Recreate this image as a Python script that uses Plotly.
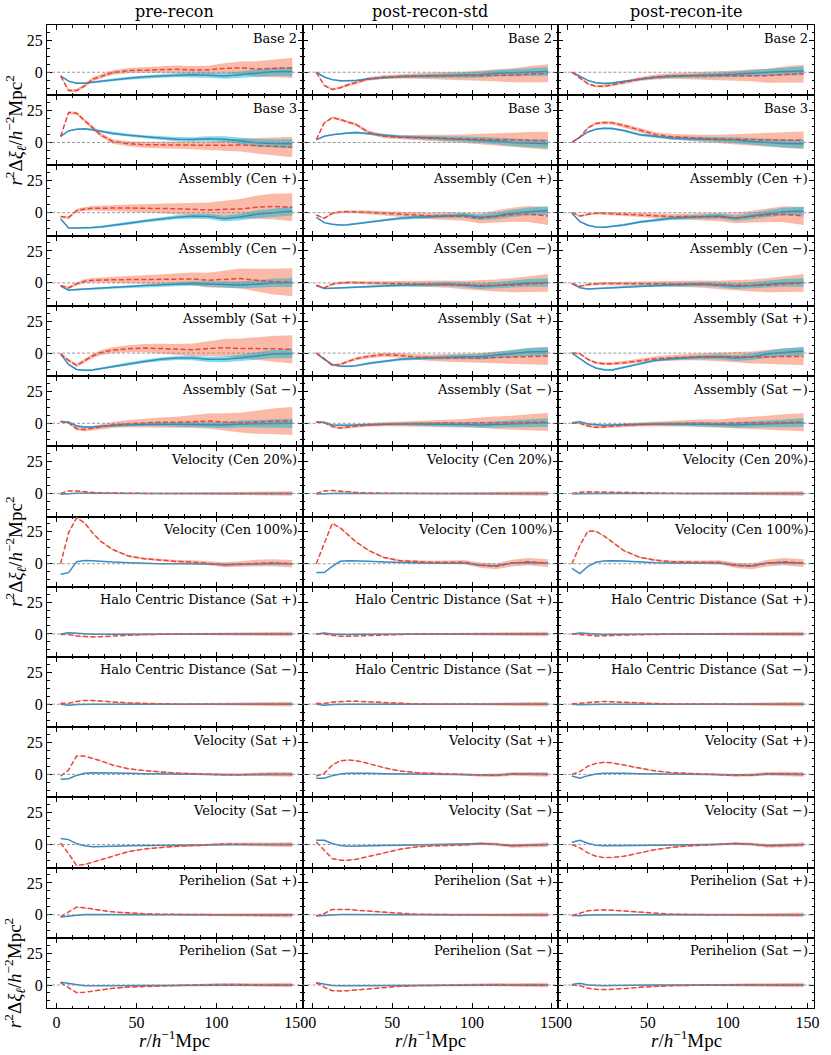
import plotly.graph_objects as go
from plotly.subplots import make_subplots

# ---------------- data ----------------
R = [2.5, 7.5, 12.5, 17.5, 22.5, 27.5, 35, 45, 55, 65, 75, 85, 95, 105, 115, 125, 135, 147.5]

COLUMN_TITLES = ["pre-recon", "post-recon-std", "post-recon-ite"]
PANEL_LABELS = ["Base 2", "Base 3", "Assembly (Cen +)", "Assembly (Cen \u2212)",
                "Assembly (Sat +)", "Assembly (Sat \u2212)", "Velocity (Cen 20%)",
                "Velocity (Cen 100%)", "Halo Centric Distance (Sat +)",
                "Halo Centric Distance (Sat \u2212)", "Velocity (Sat +)", "Velocity (Sat \u2212)",
                "Perihelion (Sat +)", "Perihelion (Sat \u2212)"]
X_TICKS = [0, 50, 100, 150]
Y_TICKS = [0, 25]

# Base 2
B2_PRE_RED = [-2.9, -14.3, -14.3, -10.7, -5.5, -3.4, -0.3, 1.3, 1.8, 2.0, 2.3, 1.8, 1.8, 3.0, 3.4, 2.6, 3.0, 3.4]
B2_PRE_BLUE = [-2.9, -7.0, -8.6, -8.6, -7.8, -7.0, -6.0, -4.7, -3.6, -2.9, -2.3, -2.0, -2.3, -2.9, -2.0, -0.8, 0.3, 0.5]
B2_STD_RED = [0.0, -10.3, -13.5, -12.2, -9.8, -8.0, -5.3, -3.7, -3.2, -2.9, -2.7, -2.7, -2.9, -2.7, -2.4, -2.4, -1.6, -0.8]
B2_STD_BLUE = [0.0, -3.7, -5.8, -6.6, -6.6, -6.4, -5.3, -4.2, -3.4, -3.2, -2.9, -2.7, -2.4, -1.9, -0.8, -0.3, 0.3, 0.5]
B2_ITE_RED = [0.0, -4.2, -9.0, -11.0, -10.9, -10.0, -8.0, -5.3, -3.7, -2.9, -2.7, -2.7, -2.9, -2.7, -2.4, -2.7, -1.9, -1.1]
B2_ITE_BLUE = [0.0, -3.2, -6.4, -8.2, -8.8, -8.5, -7.2, -5.3, -4.0, -3.2, -2.9, -2.7, -2.4, -1.6, -0.8, 0.0, 0.5, 1.0]
# Base 3
B3_PRE_RED = [4.7, 23.4, 22.9, 17.2, 11.2, 6.0, 0.8, -1.0, -1.8, -2.0, -2.0, -2.3, -2.6, -2.3, -2.0, -2.6, -3.1, -3.6]
B3_PRE_BLUE = [4.7, 9.1, 10.4, 10.7, 9.9, 8.9, 7.0, 5.7, 4.4, 3.4, 2.6, 2.3, 2.9, 2.6, 1.3, -0.3, -0.8, -1.0]
B3_STD_RED = [2.1, 15.4, 19.4, 18.0, 15.9, 14.0, 8.0, 4.8, 4.0, 3.7, 3.4, 3.2, 2.9, 2.9, 2.4, 2.1, 1.9, 1.3]
B3_STD_BLUE = [2.1, 4.8, 6.1, 6.9, 7.4, 7.7, 6.9, 5.3, 4.5, 4.0, 3.4, 2.9, 2.7, 2.1, 1.1, 0.0, -0.5, -1.1]
B3_ITE_RED = [0.0, 4.2, 11.4, 14.9, 15.6, 15.4, 13.3, 9.5, 6.1, 4.5, 3.7, 3.2, 2.7, 2.4, 2.1, 2.1, 1.9, 1.6]
B3_ITE_BLUE = [0.0, 4.2, 8.2, 10.3, 11.1, 10.9, 9.3, 6.1, 4.5, 3.4, 2.9, 2.7, 2.4, 1.9, 0.8, 0.0, -0.8, -1.1]
# Assembly (Cen +)
ACP_PRE_RED = [-3.1, -3.9, 1.6, 2.9, 3.4, 3.6, 3.6, 3.6, 3.6, 3.4, 3.1, 2.6, 2.1, 2.6, 2.9, 4.2, 4.9, 4.2]
ACP_PRE_BLUE = [-4.7, -12.0, -12.0, -12.0, -11.7, -11.2, -10.2, -8.3, -6.5, -4.9, -3.6, -2.9, -3.0, -4.7, -3.4, -1.3, 0.0, 1.3]
ACP_STD_RED = [-1.8, -4.4, -0.5, 0.5, 0.8, 0.8, 0.3, -0.5, -1.3, -2.1, -2.6, -2.6, -3.1, -4.4, -3.1, -1.6, -1.0, -2.6]
ACP_STD_BLUE = [-3.6, -7.8, -9.1, -9.6, -9.4, -8.6, -7.3, -5.7, -4.4, -3.6, -3.1, -2.3, -2.1, -3.6, -2.6, -0.5, 0.8, 1.6]
ACP_ITE_RED = [0.0, -2.6, -1.3, -0.5, -0.5, -0.8, -1.3, -1.8, -2.3, -3.1, -3.1, -3.1, -3.4, -4.2, -3.1, -1.8, -1.3, -2.6]
ACP_ITE_BLUE = [-0.5, -7.0, -9.9, -11.2, -11.5, -10.9, -9.6, -7.3, -5.7, -4.4, -3.6, -2.9, -2.6, -4.4, -2.6, -0.5, 0.8, 1.3]
# Assembly (Cen -)
ACM_PRE_RED = [-2.1, -3.9, -0.8, 1.3, 2.1, 2.3, 2.3, 2.6, 2.6, 2.9, 3.1, 3.1, 2.1, 2.9, 3.4, 2.1, 1.0, 0.5]
ACM_PRE_BLUE = [-2.6, -5.7, -5.2, -4.9, -4.7, -4.2, -3.6, -2.9, -2.1, -1.6, -1.0, -0.5, -0.8, -1.3, -1.6, -1.0, 0.0, 0.3]
ACM_STD_RED = [-1.8, -3.9, -1.0, 0.0, 0.3, 0.3, 0.0, -0.3, -0.5, -0.5, -0.8, -1.0, -1.6, -2.1, -2.1, -1.8, -1.0, 0.0]
ACM_STD_BLUE = [-2.1, -4.4, -4.2, -3.9, -3.6, -3.4, -2.9, -2.3, -1.8, -1.6, -1.3, -1.0, -1.6, -2.6, -2.1, -1.0, 0.0, 0.3]
ACM_ITE_RED = [-0.5, -2.6, -1.3, -0.8, -0.5, -0.5, -0.5, -0.5, -0.5, -0.5, -0.8, -1.0, -1.6, -2.1, -2.1, -1.8, -1.0, 0.0]
ACM_ITE_BLUE = [-0.5, -3.9, -4.7, -4.4, -4.2, -3.6, -3.1, -2.3, -1.8, -1.6, -1.3, -1.0, -1.6, -2.6, -2.1, -1.0, 0.0, 0.3]
# Assembly (Sat +)
ASP_PRE_RED = [-0.3, -5.7, -9.6, -6.0, -2.3, 0.3, 2.3, 3.4, 3.9, 3.6, 2.9, 2.6, 3.6, 4.2, 3.6, 3.6, 3.4, 2.9]
ASP_PRE_BLUE = [-0.8, -8.9, -12.8, -13.5, -13.3, -12.2, -10.4, -8.3, -6.5, -4.9, -3.9, -3.9, -4.9, -4.9, -3.9, -2.3, -0.8, -0.3]
ASP_STD_RED = [0.0, -4.4, -9.6, -8.9, -6.5, -4.4, -2.6, -1.3, -1.8, -3.1, -3.6, -3.9, -3.9, -3.9, -3.6, -3.1, -2.6, -2.3]
ASP_STD_BLUE = [0.0, -4.9, -8.9, -10.4, -10.4, -9.9, -8.1, -6.3, -4.9, -4.2, -3.6, -3.1, -2.9, -2.9, -1.8, -0.3, 0.8, 1.3]
ASP_ITE_RED = [0.0, -0.5, -4.9, -7.6, -8.3, -8.3, -7.6, -6.0, -4.4, -3.6, -3.1, -2.9, -2.9, -3.1, -3.4, -3.1, -2.6, -2.6]
ASP_ITE_BLUE = [0.0, -4.2, -8.6, -11.7, -13.0, -13.3, -11.2, -8.1, -5.7, -4.4, -3.6, -3.1, -2.9, -3.9, -2.9, -0.8, 0.5, 1.6]
# Assembly (Sat -)
ASM_PRE_RED = [1.6, 0.5, -4.2, -4.9, -3.9, -2.9, -1.3, -0.3, 0.5, 0.8, 0.8, 1.3, 1.8, 1.0, 0.5, 0.8, 1.6, 1.8]
ASM_PRE_BLUE = [1.3, 1.0, -2.1, -2.9, -2.9, -2.3, -1.8, -1.3, -0.8, -0.8, -0.8, -1.0, -1.3, -1.3, -0.5, -0.3, 0.0, 0.0]
ASM_STD_RED = [1.0, 0.5, -2.6, -3.6, -2.9, -2.1, -1.3, -0.8, -0.5, -0.3, 0.0, 0.3, 0.0, 0.5, 0.3, 0.5, 0.8, 1.0]
ASM_STD_BLUE = [1.0, 0.8, -1.3, -1.6, -1.6, -1.3, -1.0, -0.8, -0.5, -0.5, -0.5, -0.8, -1.0, -1.3, -0.8, -0.3, 0.3, 0.5]
ASM_ITE_RED = [0.0, 0.0, -2.1, -3.1, -2.9, -2.3, -1.6, -1.0, -0.5, -0.3, 0.0, 0.0, -0.3, 0.3, 0.3, 0.5, 0.8, 0.8]
ASM_ITE_BLUE = [0.5, 1.3, -0.5, -1.3, -1.6, -1.3, -1.0, -0.8, -0.5, -0.5, -0.5, -0.8, -1.0, -1.3, -0.8, -0.3, 0.3, 0.5]
# Velocity (Cen 20%)
VC20_PRE_RED = [0.0, 2.0, 2.0, 1.3, 0.8, 0.5, 0.3, 0.1, 0.0, 0.0, 0.0, 0.0, 0.0, 0.0, 0.0, 0.0, 0.0, 0.0]
VC20_PRE_BLUE = [-0.5, 0.0, 0.3, 0.2, 0.1, 0.0, 0.0, 0.0, 0.0, 0.0, 0.0, 0.0, 0.0, 0.0, 0.0, 0.0, 0.0, 0.0]
VC20_STD_RED = [0.0, 2.0, 2.4, 1.8, 1.2, 0.8, 0.4, 0.2, 0.1, 0.0, 0.0, 0.0, 0.0, 0.0, 0.0, 0.0, 0.0, 0.0]
VC20_STD_BLUE = [-0.3, 0.0, 0.2, 0.2, 0.1, 0.0, 0.0, 0.0, 0.0, 0.0, 0.0, 0.0, 0.0, 0.0, 0.0, 0.0, 0.0, 0.0]
VC20_ITE_RED = [0.0, 1.0, 1.3, 1.2, 0.9, 0.6, 0.3, 0.1, 0.0, 0.0, 0.0, 0.0, 0.0, 0.0, 0.0, 0.0, 0.0, 0.0]
VC20_ITE_BLUE = [-0.2, 0.0, 0.2, 0.2, 0.1, 0.0, 0.0, 0.0, 0.0, 0.0, 0.0, 0.0, 0.0, 0.0, 0.0, 0.0, 0.0, 0.0]
# Velocity (Cen 100%)
VC100_PRE_RED = [0.0, 24.2, 36.0, 32.0, 24.2, 17.7, 11.2, 6.0, 3.9, 2.6, 1.8, 1.3, 0.5, -0.8, -0.3, 0.5, 0.8, 0.0]
VC100_PRE_BLUE = [-8.3, -7.0, 1.6, 2.6, 2.3, 1.8, 1.3, 0.8, 0.3, 0.0, 0.0, 0.0, -0.3, -0.8, -0.3, 0.2, 0.2, 0.0]
VC100_STD_RED = [0.0, 16.0, 31.6, 28.1, 22.3, 17.0, 10.6, 4.8, 2.4, 1.6, 1.1, 1.1, 1.3, -1.1, -2.1, 0.5, 1.6, 0.5]
VC100_STD_BLUE = [-6.9, -6.9, -2.1, 1.9, 2.4, 2.4, 1.9, 1.3, 0.8, 0.5, 0.3, 0.3, 0.5, -1.1, -1.6, 0.5, 1.0, 0.3]
VC100_ITE_RED = [0.0, 14.3, 25.5, 25.5, 21.8, 17.0, 10.3, 5.0, 2.7, 1.6, 1.1, 1.1, 1.1, -1.3, -2.1, 0.5, 1.6, 0.5]
VC100_ITE_BLUE = [-3.7, -7.7, -2.1, 1.1, 2.1, 2.4, 2.1, 1.3, 0.8, 0.5, 0.3, 0.3, 0.5, -1.1, -1.6, 0.5, 1.0, 0.3]
# Halo Centric Distance (Sat +)
HDP_PRE_RED = [-0.5, -0.5, -1.6, -2.1, -2.3, -2.1, -1.6, -1.0, -0.5, -0.3, 0.0, 0.0, 0.0, 0.2, 0.0, 0.0, 0.0, 0.0]
HDP_PRE_BLUE = [0.0, 1.0, 0.5, 0.0, -0.3, -0.3, -0.3, -0.1, 0.0, 0.0, 0.0, 0.0, 0.0, 0.0, 0.0, 0.0, 0.0, 0.0]
HDP_STD_RED = [0.0, 0.0, -1.0, -1.8, -1.8, -1.6, -1.0, -0.5, -0.3, 0.0, 0.0, 0.0, 0.0, 0.2, 0.0, 0.0, 0.0, 0.0]
HDP_STD_BLUE = [0.0, 0.8, 0.0, -0.3, -0.5, -0.3, -0.2, 0.0, 0.0, 0.0, 0.0, 0.0, 0.0, 0.0, 0.0, 0.0, 0.0, 0.0]
HDP_ITE_RED = [0.0, -0.3, -1.0, -1.6, -1.6, -1.3, -0.8, -0.5, -0.3, 0.0, 0.0, 0.0, 0.0, 0.2, 0.0, 0.0, 0.0, 0.0]
HDP_ITE_BLUE = [0.0, 0.8, 0.3, -0.3, -0.5, -0.3, -0.2, 0.0, 0.0, 0.0, 0.0, 0.0, 0.0, 0.0, 0.0, 0.0, 0.0, 0.0]
# Halo Centric Distance (Sat -)
HDM_PRE_RED = [0.8, 0.8, 2.1, 2.9, 2.9, 2.3, 1.8, 1.0, 0.5, 0.2, 0.0, 0.0, 0.0, 0.0, 0.0, 0.0, 0.0, 0.0]
HDM_PRE_BLUE = [0.0, -0.8, -0.3, 0.0, 0.0, 0.0, 0.0, 0.0, 0.0, 0.0, 0.0, 0.0, 0.0, 0.0, 0.0, 0.0, 0.0, 0.0]
HDM_STD_RED = [0.8, 0.5, 1.6, 2.1, 2.3, 2.3, 1.8, 1.0, 0.5, 0.2, 0.0, 0.0, 0.0, 0.0, 0.0, 0.0, 0.0, 0.0]
HDM_STD_BLUE = [0.0, -0.8, -0.3, 0.0, 0.0, 0.0, 0.0, 0.0, 0.0, 0.0, 0.0, 0.0, 0.0, 0.0, 0.0, 0.0, 0.0, 0.0]
HDM_ITE_RED = [0.3, 0.8, 1.6, 2.1, 2.1, 1.8, 1.6, 1.0, 0.5, 0.2, 0.0, 0.0, 0.0, 0.0, 0.0, 0.0, 0.0, 0.0]
HDM_ITE_BLUE = [0.0, -0.5, -0.3, 0.0, 0.0, 0.0, 0.0, 0.0, 0.0, 0.0, 0.0, 0.0, 0.0, 0.0, 0.0, 0.0, 0.0, 0.0]
# Velocity (Sat +)
VSP_PRE_RED = [-1.3, 3.4, 14.3, 14.3, 12.5, 10.7, 7.3, 4.4, 2.9, 1.8, 1.0, 0.5, 0.0, -0.3, -0.3, 0.0, 0.2, 0.0]
VSP_PRE_BLUE = [-3.9, -3.4, -0.8, 0.8, 1.3, 1.3, 1.0, 0.8, 0.5, 0.3, 0.3, 0.0, 0.0, -0.3, -0.2, 0.0, 0.0, 0.0]
VSP_STD_RED = [-1.3, 0.8, 7.3, 10.7, 11.2, 10.7, 8.6, 5.2, 2.6, 1.3, 0.8, 0.3, 0.0, -0.8, -0.8, 0.3, 0.3, 0.0]
VSP_STD_BLUE = [-3.1, -3.1, -1.0, 0.3, 0.8, 1.0, 0.8, 0.5, 0.3, 0.1, 0.0, 0.0, 0.0, -0.5, -0.5, 0.2, 0.2, 0.0]
VSP_ITE_RED = [0.0, 2.1, 6.5, 8.6, 9.4, 9.1, 7.3, 4.7, 2.6, 1.3, 0.8, 0.3, 0.0, -0.8, -0.5, 0.5, 0.5, 0.0]
VSP_ITE_BLUE = [-1.3, -3.1, -1.0, 0.3, 0.8, 1.0, 0.8, 0.5, 0.3, 0.1, 0.0, 0.0, 0.0, -0.5, -0.5, 0.2, 0.2, 0.0]
# Velocity (Sat -)
VSM_PRE_RED = [1.3, -7.0, -16.3, -15.6, -13.8, -12.0, -9.1, -5.5, -3.4, -2.1, -1.3, -0.8, -0.3, 0.5, 0.3, 0.0, 0.0, 0.0]
VSM_PRE_BLUE = [4.7, 3.9, 0.8, -1.0, -1.6, -1.6, -1.3, -1.0, -0.8, -0.5, -0.3, -0.3, 0.0, 0.3, 0.0, 0.0, 0.0, 0.0]
VSM_STD_RED = [2.1, -4.4, -10.9, -12.2, -12.2, -11.5, -9.6, -6.5, -3.6, -1.8, -1.0, -0.5, -0.3, 0.8, 0.3, -1.0, -0.8, 0.0]
VSM_STD_BLUE = [3.4, 3.4, 0.8, -0.8, -1.3, -1.3, -1.0, -0.8, -0.5, -0.3, -0.3, 0.0, 0.3, 0.8, 0.3, -0.8, -0.5, 0.0]
VSM_ITE_RED = [0.0, -2.6, -6.5, -9.1, -10.2, -10.2, -9.1, -6.5, -3.9, -2.1, -1.0, -0.5, 0.0, 0.8, 0.3, -1.0, -0.8, 0.0]
VSM_ITE_BLUE = [1.8, 3.4, 1.0, -0.5, -1.0, -1.0, -1.0, -0.8, -0.5, -0.3, -0.3, 0.0, 0.3, 0.8, 0.3, -0.8, -0.5, 0.0]
# Perihelion (Sat +)
PHP_PRE_RED = [-1.6, 2.3, 6.0, 5.5, 4.4, 3.6, 2.3, 1.3, 0.8, 0.5, 0.3, 0.0, 0.0, 0.0, 0.0, -0.2, -0.3, -0.3]
PHP_PRE_BLUE = [-1.8, -1.0, 0.0, 0.3, 0.3, 0.2, 0.1, 0.0, 0.0, 0.0, 0.0, 0.0, 0.0, 0.0, 0.0, 0.0, 0.0, 0.0]
PHP_STD_RED = [-1.0, 1.0, 4.2, 4.4, 4.2, 3.6, 2.9, 1.8, 1.0, 0.5, 0.3, 0.0, 0.0, 0.0, -0.2, -0.2, 0.0, 0.0]
PHP_STD_BLUE = [-1.0, -0.5, 0.0, 0.3, 0.3, 0.2, 0.1, 0.0, 0.0, 0.0, 0.0, 0.0, 0.0, 0.0, 0.0, 0.0, 0.0, 0.0]
PHP_ITE_RED = [-0.5, 1.0, 3.1, 3.6, 3.9, 3.6, 2.9, 1.8, 1.0, 0.5, 0.3, 0.0, 0.0, 0.0, -0.2, -0.2, 0.0, 0.0]
PHP_ITE_BLUE = [-0.5, -0.8, -0.2, 0.0, 0.1, 0.1, 0.0, 0.0, 0.0, 0.0, 0.0, 0.0, 0.0, 0.0, 0.0, 0.0, 0.0, 0.0]
# Perihelion (Sat -)
PHM_PRE_RED = [1.8, -1.8, -6.0, -5.7, -4.7, -3.9, -2.6, -1.6, -1.0, -0.5, -0.3, 0.0, 0.3, 0.5, 0.3, 0.0, 0.0, 0.0]
PHM_PRE_BLUE = [2.1, 1.3, 0.0, -0.5, -0.5, -0.5, -0.3, -0.1, 0.0, 0.0, 0.0, 0.0, 0.0, 0.0, 0.0, 0.0, 0.0, 0.0]
PHM_STD_RED = [1.8, -1.8, -4.4, -4.7, -4.4, -3.9, -2.9, -1.8, -1.0, -0.5, -0.3, 0.0, 0.3, 0.5, 0.3, 0.0, 0.0, 0.0]
PHM_STD_BLUE = [1.8, 1.0, -0.3, -0.5, -0.5, -0.4, -0.2, 0.0, 0.0, 0.0, 0.0, 0.0, 0.0, 0.0, 0.0, 0.0, 0.0, 0.0]
PHM_ITE_RED = [0.0, -0.5, -2.6, -3.4, -3.6, -3.4, -2.9, -1.8, -1.0, -0.5, -0.3, 0.0, 0.2, 0.3, 0.2, 0.0, 0.0, 0.0]
PHM_ITE_BLUE = [0.5, 1.3, 0.0, -0.5, -0.5, -0.4, -0.2, 0.0, 0.0, 0.0, 0.0, 0.0, 0.0, 0.0, 0.0, 0.0, 0.0, 0.0]

# error half-widths (1-sigma bands)
E_RED_PRE_A = [0.5, 1.0, 1.2, 1.3, 1.5, 1.6, 1.8, 2.0, 2.3, 2.6, 2.9, 3.0, 3.3, 4.0, 5.0, 6.0, 7.0, 8.0]
E_RED_PRE_B = [0.6, 1.0, 1.3, 1.5, 1.8, 2.0, 2.3, 2.8, 3.3, 3.8, 4.3, 5.0, 5.8, 6.8, 7.8, 9.0, 10.0, 11.0]
E_RED_POST = [0.4, 0.7, 0.9, 1.0, 1.1, 1.2, 1.4, 1.6, 1.9, 2.2, 2.5, 2.9, 3.3, 4.0, 4.7, 5.5, 6.3, 7.0]
E_BLUE_PRE = [0.3, 0.5, 0.6, 0.7, 0.8, 0.9, 1.0, 1.1, 1.2, 1.4, 1.6, 1.8, 2.0, 2.3, 2.6, 3.0, 3.3, 3.6]
E_BLUE_POST = [0.2, 0.4, 0.5, 0.6, 0.7, 0.8, 0.9, 1.0, 1.1, 1.3, 1.5, 1.7, 1.9, 2.2, 2.5, 2.8, 3.1, 3.4]
E_RED_SMALL = [0.1, 0.2, 0.3, 0.3, 0.3, 0.3, 0.3, 0.4, 0.4, 0.5, 0.6, 0.7, 0.8, 1.0, 1.2, 1.4, 1.6, 1.8]
E_RED_V100 = [0.2, 0.4, 0.5, 0.5, 0.5, 0.5, 0.6, 0.7, 0.8, 1.0, 1.2, 1.4, 1.7, 2.0, 2.3, 2.6, 2.8, 3.0]
E_BLUE_SMALL = [0.1, 0.1, 0.15, 0.15, 0.15, 0.15, 0.2, 0.2, 0.2, 0.25, 0.3, 0.3, 0.35, 0.4, 0.45, 0.5, 0.55, 0.6]

ROWS = [
    [(B2_PRE_RED, B2_PRE_BLUE), (B2_STD_RED, B2_STD_BLUE), (B2_ITE_RED, B2_ITE_BLUE)],
    [(B3_PRE_RED, B3_PRE_BLUE), (B3_STD_RED, B3_STD_BLUE), (B3_ITE_RED, B3_ITE_BLUE)],
    [(ACP_PRE_RED, ACP_PRE_BLUE), (ACP_STD_RED, ACP_STD_BLUE), (ACP_ITE_RED, ACP_ITE_BLUE)],
    [(ACM_PRE_RED, ACM_PRE_BLUE), (ACM_STD_RED, ACM_STD_BLUE), (ACM_ITE_RED, ACM_ITE_BLUE)],
    [(ASP_PRE_RED, ASP_PRE_BLUE), (ASP_STD_RED, ASP_STD_BLUE), (ASP_ITE_RED, ASP_ITE_BLUE)],
    [(ASM_PRE_RED, ASM_PRE_BLUE), (ASM_STD_RED, ASM_STD_BLUE), (ASM_ITE_RED, ASM_ITE_BLUE)],
    [(VC20_PRE_RED, VC20_PRE_BLUE), (VC20_STD_RED, VC20_STD_BLUE), (VC20_ITE_RED, VC20_ITE_BLUE)],
    [(VC100_PRE_RED, VC100_PRE_BLUE), (VC100_STD_RED, VC100_STD_BLUE), (VC100_ITE_RED, VC100_ITE_BLUE)],
    [(HDP_PRE_RED, HDP_PRE_BLUE), (HDP_STD_RED, HDP_STD_BLUE), (HDP_ITE_RED, HDP_ITE_BLUE)],
    [(HDM_PRE_RED, HDM_PRE_BLUE), (HDM_STD_RED, HDM_STD_BLUE), (HDM_ITE_RED, HDM_ITE_BLUE)],
    [(VSP_PRE_RED, VSP_PRE_BLUE), (VSP_STD_RED, VSP_STD_BLUE), (VSP_ITE_RED, VSP_ITE_BLUE)],
    [(VSM_PRE_RED, VSM_PRE_BLUE), (VSM_STD_RED, VSM_STD_BLUE), (VSM_ITE_RED, VSM_ITE_BLUE)],
    [(PHP_PRE_RED, PHP_PRE_BLUE), (PHP_STD_RED, PHP_STD_BLUE), (PHP_ITE_RED, PHP_ITE_BLUE)],
    [(PHM_PRE_RED, PHM_PRE_BLUE), (PHM_STD_RED, PHM_STD_BLUE), (PHM_ITE_RED, PHM_ITE_BLUE)],
]


def errors_for(i, j):
    if i < 6:
        if j == 0:
            return (E_RED_PRE_A if i < 2 else E_RED_PRE_B), E_BLUE_PRE
        return E_RED_POST, E_BLUE_POST
    if i == 7:
        return E_RED_V100, E_BLUE_SMALL
    return E_RED_SMALL, E_BLUE_SMALL


# ---------------- style ----------------
RED_LINE = "#E5473B"
BLUE_LINE = "#3A8AC4"
RED_FILL = "rgba(248,122,88,0.52)"
BLUE_FILL = "rgba(0,185,205,0.5)"
TEXT_FONT = "DejaVu Serif"
MATH_FONT = "Liberation Serif"

FIG_W, FIG_H = 831, 1055
M_L, M_R, M_T, M_B = 47, 11, 25, 47
PLOT_H = FIG_H - M_T - M_B

NR, NC = 14, 3
fig = make_subplots(rows=NR, cols=NC, shared_xaxes=True, shared_yaxes=True,
                    horizontal_spacing=0, vertical_spacing=0)


def band(x, y, e):
    up = [a + b for a, b in zip(y, e)]
    lo = [a - b for a, b in zip(y, e)]
    return list(x) + list(x)[::-1], up + lo[::-1]

for i in range(NR):
    for j in range(NC):
        red, blue = ROWS[i][j]
        er, eb = errors_for(i, j)
        bx, by = band(R, red, er)
        fig.add_trace(go.Scatter(x=bx, y=by, fill="toself", fillcolor=RED_FILL,
                                 line=dict(width=0), mode="lines", hoverinfo="skip"),
                      row=i + 1, col=j + 1)
        bx, by = band(R, blue, eb)
        fig.add_trace(go.Scatter(x=bx, y=by, fill="toself", fillcolor=BLUE_FILL,
                                 line=dict(width=0), mode="lines", hoverinfo="skip"),
                      row=i + 1, col=j + 1)
        fig.add_trace(go.Scatter(x=R, y=blue, mode="lines",
                                 line=dict(color=BLUE_LINE, width=1.5)),
                      row=i + 1, col=j + 1)
        fig.add_trace(go.Scatter(x=R, y=red, mode="lines",
                                 line=dict(color=RED_LINE, width=1.5, dash="5px,2.5px")),
                      row=i + 1, col=j + 1)
        k = i * NC + j + 1
        sfx = "" if k == 1 else str(k)
        fig.add_shape(type="line", xref=f"x{sfx} domain", yref=f"y{sfx}",
                      x0=0, x1=1, y0=0, y1=0, layer="above",
                      line=dict(color="#8c8c8c", width=0.9, dash="3px,2px"))
        fig.add_annotation(xref=f"x{sfx} domain", yref=f"y{sfx} domain",
                           x=0.985, y=0.95, xanchor="right", yanchor="top",
                           text=PANEL_LABELS[i], showarrow=False,
                           font=dict(family=TEXT_FONT, size=13, color="black"))

fig.update_xaxes(range=[-6, 154], tickvals=X_TICKS, ticks="inside", ticklen=5, tickwidth=1,
                 tickcolor="black", showline=True, linecolor="black", linewidth=1,
                 mirror="allticks", showgrid=False, zeroline=False,
                 minor=dict(ticks="inside", ticklen=2.5, dtick=10, tick0=0,
                            tickcolor="black", showgrid=False),
                 tickfont=dict(family=MATH_FONT, size=16, color="black"))
fig.update_yaxes(range=[-18, 37], tickvals=Y_TICKS, ticks="inside", ticklen=5, tickwidth=1,
                 tickcolor="black", showline=True, linecolor="black", linewidth=1,
                 mirror="allticks", showgrid=False, zeroline=False,
                 minor=dict(ticks="inside", ticklen=2.5, dtick=6.25, tick0=0,
                            tickcolor="black", showgrid=False),
                 tickfont=dict(family=MATH_FONT, size=16, color="black"))

# column titles and x titles
for j, t in enumerate(COLUMN_TITLES):
    sfx = "" if j == 0 else str(j + 1)
    fig.add_annotation(xref=f"x{sfx} domain", yref="paper", x=0.5, y=1 + 13 / PLOT_H,
                       xanchor="center", yanchor="middle", text=t, showarrow=False,
                       font=dict(family=TEXT_FONT, size=16, color="black"))
    k = (NR - 1) * NC + j + 1
    fig.add_annotation(xref=f"x{k} domain", yref="paper", x=0.5, y=-31 / PLOT_H,
                       xanchor="center", yanchor="middle",
                       text="<i>r</i>/<i>h</i><sup>\u22121</sup>Mpc", showarrow=False,
                       font=dict(family=MATH_FONT, size=19, color="black"))

YLABEL = "<i>r</i><sup>2</sup>\u0394<i>\u03be</i><sub><i>\u2113</i></sub>/<i>h</i><sup>\u22122</sup>Mpc<sup>2</sup>"
for row_idx in [2, 8, 14]:
    yc = (row_idx - 0.5) / NR
    fig.add_annotation(xref="paper", yref="paper", x=-32 / (FIG_W - M_L - M_R), y=1 - yc,
                       xanchor="center", yanchor="middle", textangle=-90,
                       text=YLABEL, showarrow=False,
                       font=dict(family=MATH_FONT, size=19, color="black"))

fig.update_layout(width=FIG_W, height=FIG_H, showlegend=False,
                  margin=dict(l=M_L, r=M_R, t=M_T, b=M_B),
                  paper_bgcolor="white", plot_bgcolor="white")

fig.write_html("out.html", config={"displayModeBar": False, "staticPlot": True},
               post_script="document.body.style.margin='0';document.body.style.overflow='hidden';")
